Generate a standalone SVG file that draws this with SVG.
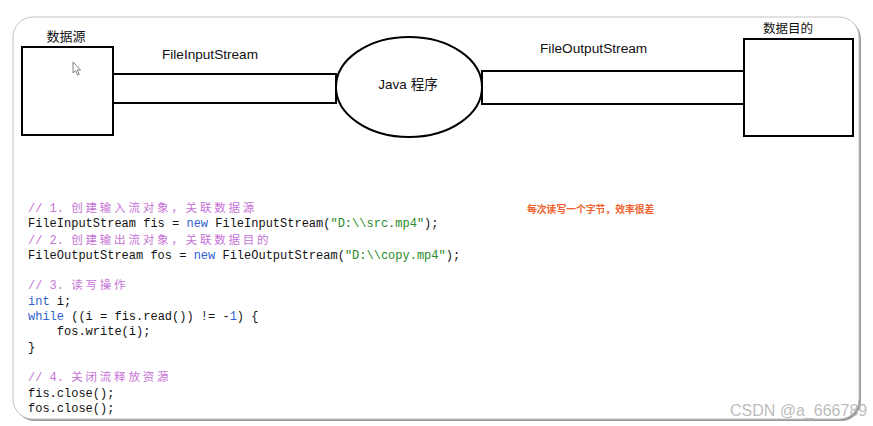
<svg xmlns="http://www.w3.org/2000/svg" width="873" height="426" viewBox="0 0 873 426">
<style>
.box{fill:#fff;stroke:#000;stroke-width:2}
.lbl{font-family:"Liberation Sans","Noto Sans CJK SC",sans-serif;fill:#111}
.code{font-family:"Liberation Mono","Noto Sans CJK SC",monospace;font-size:12px;fill:#111}
.c{fill:#c673d6}
.cjk{font-family:"Noto Sans CJK SC",sans-serif;font-size:11.5px;letter-spacing:2.8px}
.k{fill:#2f5fd0}
.s{fill:#2a8a2a}
</style>
<rect width="873" height="426" fill="#fff"/>
<g id="frame">
<rect x="15" y="19" width="846" height="402" rx="20" fill="#9a9a9a"/>
<rect x="13" y="17" width="846" height="402" rx="20" fill="#fff" stroke="#c4c4c4" stroke-width="1"/>
</g>
<g id="source">
<text class="lbl" x="66" y="41" font-size="13" text-anchor="middle">数据源</text>
<rect class="box" x="22" y="47" width="91" height="88"/>
<path d="M73,62 L73,73 L75.5,70.6 L77.6,75.2 L79.2,74.5 L77.2,70 L80.6,70 Z" fill="#fff" stroke="#666" stroke-width="0.8"/>
</g>
<g id="connectors">
<rect class="box" x="113" y="74" width="223" height="29"/>
<text class="lbl" x="162" y="59" font-size="13.6">FileInputStream</text>
<rect class="box" x="482" y="71" width="262" height="33"/>
<text class="lbl" x="540" y="53" font-size="13.7">FileOutputStream</text>
</g>
<g id="program">
<ellipse cx="409" cy="87" rx="73" ry="50" fill="#fff" stroke="#000" stroke-width="2"/>
<text class="lbl" x="408" y="89" font-size="13.5" text-anchor="middle">Java 程序</text>
</g>
<g id="dest">
<text class="lbl" x="788" y="33" font-size="12.5" text-anchor="middle">数据目的</text>
<rect class="box" x="744" y="39" width="109" height="97"/>
</g>
<g id="code">
<text class="code" x="28" y="212"><tspan class="c">// 1. <tspan class="cjk">创建输入流对象，关联数据源</tspan></tspan></text>
<text class="code" x="28" y="226.8">FileInputStream fis = <tspan class="k">new</tspan> FileInputStream(<tspan class="s">"D:\\src.mp4"</tspan>);</text>
<text class="code" x="28" y="244"><tspan class="c">// 2. <tspan class="cjk">创建输出流对象，关联数据目的</tspan></tspan></text>
<text class="code" x="28" y="258.5">FileOutputStream fos = <tspan class="k">new</tspan> FileOutputStream(<tspan class="s">"D:\\copy.mp4"</tspan>);</text>
<text class="code" x="28" y="289"><tspan class="c">// 3. <tspan class="cjk">读写操作</tspan></tspan></text>
<text class="code" x="28" y="304.5"><tspan class="k">int</tspan> i;</text>
<text class="code" x="28" y="320"><tspan class="k">while</tspan> ((i = fis.read()) != -<tspan class="k">1</tspan>) {</text>
<text class="code" x="56.8" y="335">fos.write(i);</text>
<text class="code" x="28" y="350.5">}</text>
<text class="code" x="28" y="381"><tspan class="c">// 4. <tspan class="cjk">关闭流释放资源</tspan></tspan></text>
<text class="code" x="28" y="396.5">fis.close();</text>
<text class="code" x="28" y="411.5">fos.close();</text>
</g>
<g id="note">
<text x="527" y="213" font-family="Noto Sans CJK SC, sans-serif" font-size="9.8" font-weight="bold" fill="#f0602c">每次读写一个字节，效率很差</text>
</g>
<g id="watermark">
<text x="730" y="416" font-family="Liberation Sans, sans-serif" font-size="16" fill="#b4b4b4" fill-opacity="0.9">CSDN @a_666789</text>
</g>
</svg>
